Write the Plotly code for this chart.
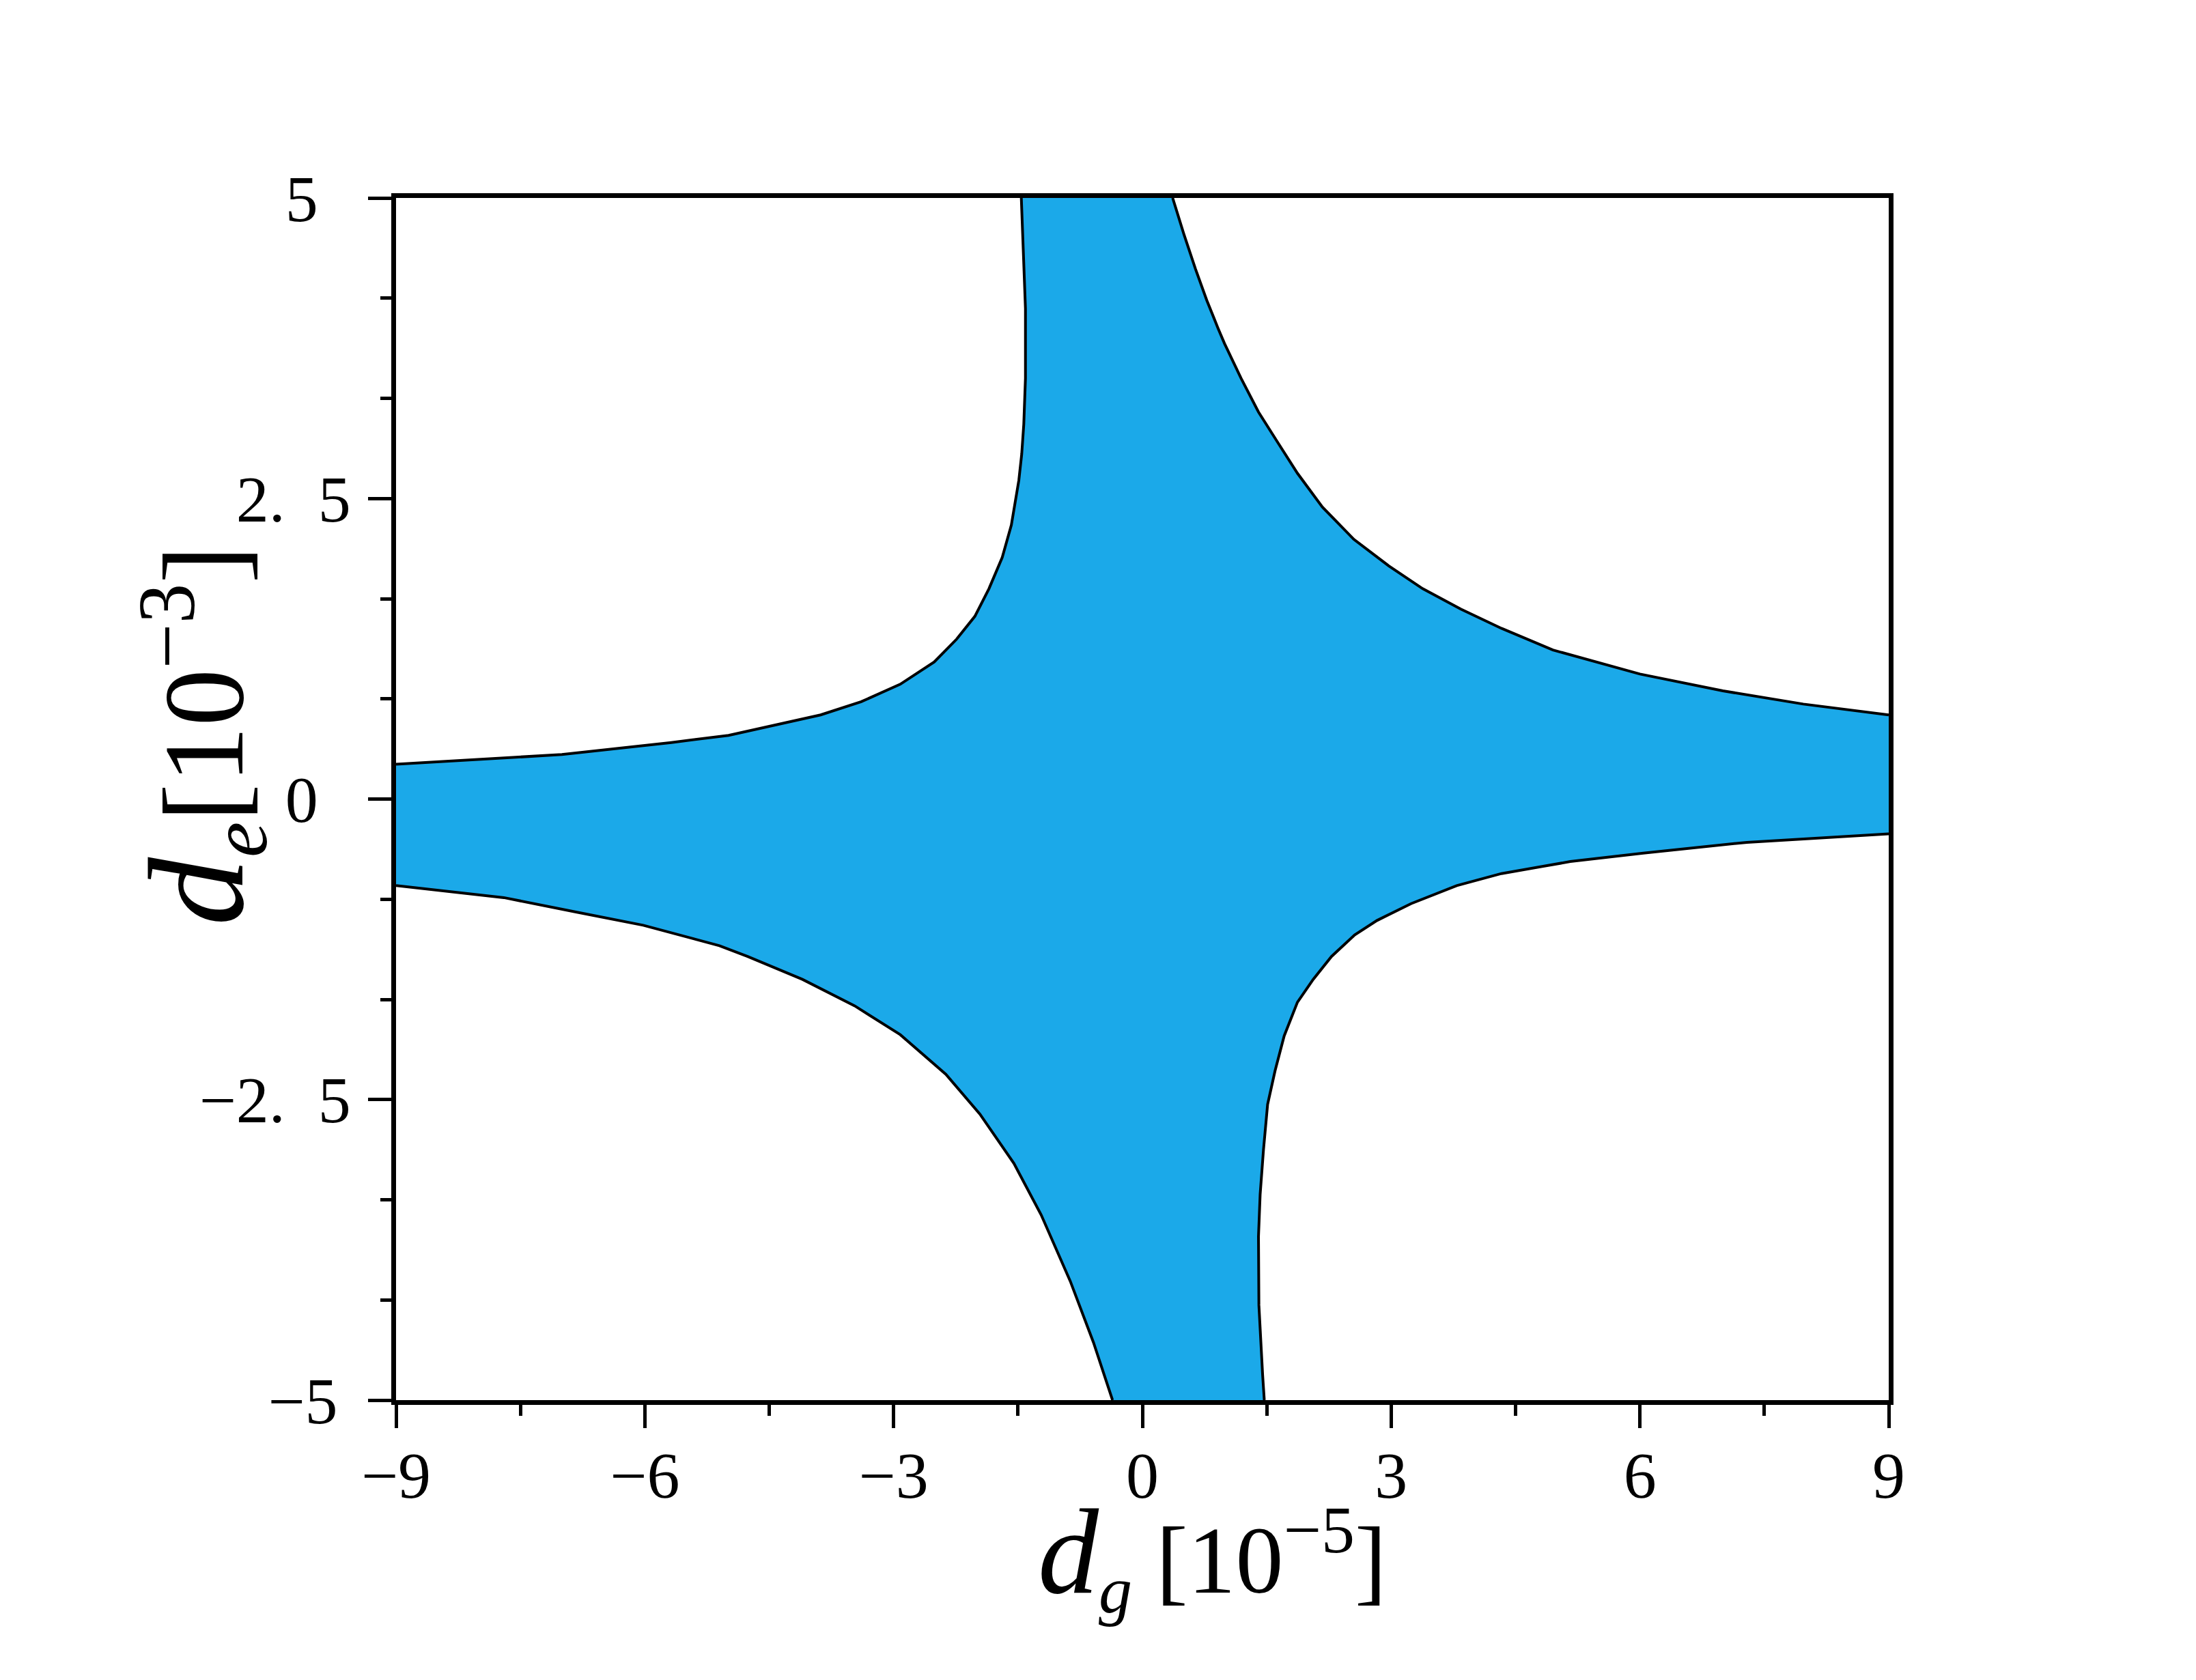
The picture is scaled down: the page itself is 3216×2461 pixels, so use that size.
import plotly.graph_objects as go

# Boundary curves of the allowed region (d_g in 1e-5, d_e in 1e-3).
ul_x = [-1.46, -1.44, -1.41, -1.41, -1.43, -1.455, -1.49, -1.58, -1.69, -1.85, -2.02, -2.24,
        -2.51, -2.92, -3.39, -3.88, -4.99, -5.68, -7.00, -9.00]
ul_y = [5.00, 4.64, 4.08, 3.50, 3.12, 2.87, 2.65, 2.28, 2.01, 1.75, 1.52, 1.33,
        1.14, 0.955, 0.81, 0.70, 0.53, 0.47, 0.37, 0.29]

ll_x = [-9.00, -7.70, -6.83, -6.02, -5.10, -4.76, -4.10, -3.47, -2.92, -2.37, -1.96, -1.55,
        -1.22, -0.87, -0.59, -0.36]
ll_y = [-0.72, -0.82, -0.94, -1.05, -1.22, -1.31, -1.50, -1.72, -1.96, -2.29, -2.62, -3.03,
        -3.46, -4.01, -4.52, -5.00]

lr_x = [1.47, 1.45, 1.405, 1.40, 1.42, 1.46, 1.51, 1.60, 1.71, 1.87, 2.06, 2.28, 2.56, 2.83,
        3.24, 3.79, 4.33, 5.16, 6.04, 7.29, 9.00]
lr_y = [-5.00, -4.79, -4.21, -3.64, -3.29, -2.92, -2.54, -2.26, -1.97, -1.69, -1.50, -1.31,
        -1.13, -1.01, -0.87, -0.72, -0.62, -0.52, -0.45, -0.36, -0.29]

ur_x = [9.00, 7.97, 7.00, 6.00, 4.95, 4.33, 3.84, 3.38, 2.97, 2.55, 2.17, 1.87, 1.62, 1.40,
        1.19, 0.99, 0.91, 0.776, 0.64, 0.50, 0.365]
ur_y = [0.70, 0.79, 0.90, 1.04, 1.24, 1.42, 1.58, 1.75, 1.94, 2.16, 2.43, 2.71, 2.98, 3.22,
        3.50, 3.79, 3.92, 4.15, 4.41, 4.70, 5.00]

x_tickvals = [-9, -6, -3, 0, 3, 6, 9]
x_ticktext = ["\u22129", "\u22126", "\u22123", "0", "3", "6", "9"]
y_tickvals = [-5, -2.5, 0, 2.5, 5]
# wide gaps as in the original label font
y_ticktext = ["\u22125\u2009", "\u22122.\u20025", "0\u2002", "2.\u20025", "5\u2002"]

FONT = "Times New Roman, Liberation Serif, serif"
FILL = "#1BA9E9"

traces = []
# Filled region: walk the four boundaries in order.
traces.append(
    go.Scatter(
        x=ul_x + ll_x + lr_x + ur_x,
        y=ul_y + ll_y + lr_y + ur_y,
        mode="lines",
        fill="toself",
        fillcolor=FILL,
        line={"width": 0},
        hoverinfo="skip",
    )
)
# Boundary lines.
for xs, ys in [(ul_x, ul_y), (ll_x, ll_y), (lr_x, lr_y), (ur_x, ur_y)]:
    traces.append(
        go.Scatter(x=xs, y=ys, mode="lines", line={"color": "black", "width": 4})
    )

axis_common = {
    "showgrid": False,
    "zeroline": False,
    "showline": True,
    "linecolor": "black",
    "linewidth": 7,
    "mirror": True,
    "ticks": "outside",
    "ticklen": 34,
    "tickwidth": 5,
    "tickcolor": "black",
    "tickfont": {"family": FONT, "size": 96, "color": "black"},
}

layout = {
    "width": 3216,
    "height": 2461,
    "paper_bgcolor": "white",
    "plot_bgcolor": "white",
    "showlegend": False,
    # page body adds a small offset, so margins are shifted to land the plot area in place
    "margin": {"l": 572, "r": 458, "t": 282, "b": 418},
    "font": {"family": FONT, "color": "black"},
    "xaxis": {
        **axis_common,
        "range": [-9, 9],
        "tickmode": "array",
        "tickvals": x_tickvals,
        "ticktext": x_ticktext,
        "ticklabelstandoff": -13,
        "minor": {"dtick": 1.5, "tick0": -9, "ticks": "outside", "ticklen": 16,
                  "tickwidth": 5, "tickcolor": "black"},
    },
    "yaxis": {
        **axis_common,
        "range": [-5, 5],
        "tickmode": "array",
        "tickvals": y_tickvals,
        "ticktext": y_ticktext,
        "ticklabelstandoff": 6,
        "minor": {"dtick": 2.5 / 3, "tick0": -5, "ticks": "outside", "ticklen": 16,
                  "tickwidth": 5, "tickcolor": "black"},
    },
    "annotations": [
        {
            "text": '<span style="font-size:178px"><i>d</i></span><sub><i>g</i></sub> [10<sup>\u22125</sup>]',
            "xref": "paper", "yref": "paper",
            "x": 0.547, "y": -0.129,
            "xanchor": "center", "yanchor": "middle",
            "showarrow": False,
            "font": {"family": FONT, "size": 140, "color": "black"},
        },
        {
            "text": '<span style="font-size:200px"><i>d</i></span><sub><i>e</i></sub>[10<sup>\u22123</sup>]',
            "xref": "paper", "yref": "paper",
            "x": -0.13, "y": 0.553,
            "xanchor": "center", "yanchor": "middle",
            "textangle": -90,
            "showarrow": False,
            "font": {"family": FONT, "size": 168, "color": "black"},
        },
    ],
}

fig = go.Figure(data=traces, layout=layout)
fig.write_html("out.html")
